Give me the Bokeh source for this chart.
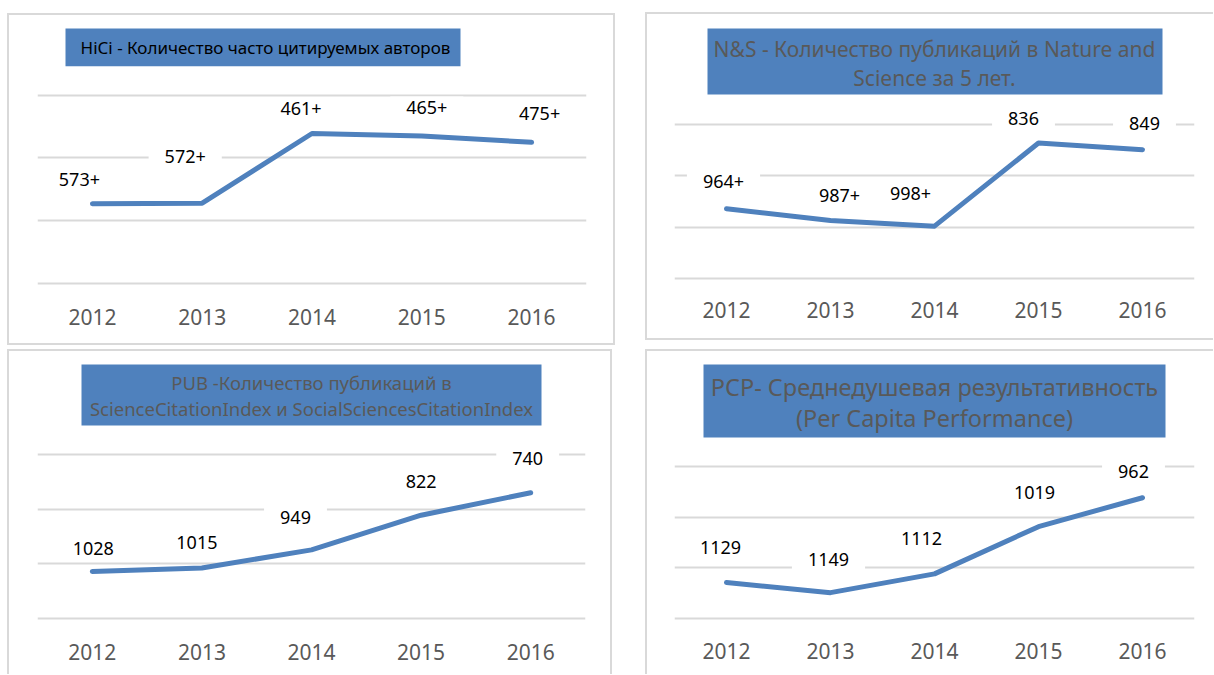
from bokeh.plotting import figure
from bokeh.models import Range1d, FixedTicker, BoxAnnotation, Label, ColumnDataSource
from bokeh.layouts import row, column
from bokeh.core.properties import value
from bokeh.embed import file_html
from bokeh.resources import INLINE

# ---------------- data ----------------
years = [2012, 2013, 2014, 2015, 2016]

hici_rank = [573, 572, 461, 465, 475]
hici_text = ["573+", "572+", "461+", "465+", "475+"]
hici_ticks = [400, 500, 600, 700]

ns_rank = [964, 987, 998, 836, 849]
ns_text = ["964+", "987+", "998+", "836", "849"]
ns_ticks = [800, 900, 1000, 1100]

pub_rank = [1028, 1015, 949, 822, 740]
pub_text = ["1028", "1015", "949", "822", "740"]
pub_ticks = [600, 800, 1000, 1200]

pcp_rank = [1129, 1149, 1112, 1019, 962]
pcp_text = ["1129", "1149", "1112", "1019", "962"]
pcp_ticks = [900, 1000, 1100, 1200]

hici_title = ["HiCi - Количество часто цитируемых авторов"]
ns_title = ["N&S - Количество публикаций в Nature and", "Science за 5 лет."]
pub_title = ["PUB -Количество публикаций в", "ScienceCitationIndex и SocialSciencesCitationIndex"]
pcp_title = ["PCP- Среднедушевая результативность", "(Per Capita Performance)"]

# label offsets (screen px), styling only
hici_dx = [-13, -17, -11, 5, 8]
hici_dy = [-24, -47, -25, -29, -29]
ns_dx = [-3, 9, -24, -15, 2]
ns_dy = [-27, -25, -33, -24, -26]
pub_dx = [1, -5, -16, 0, -3]
pub_dy = [-23, -25, -32, -34, -34]
pcp_dx = [-6, -2, -13, -4, -9]
pcp_dy = [-35, -33, -35, -34, -26]

FONT_NAME = "Noto Sans"
FONT = value(FONT_NAME)
BLUE = "#4F81BD"
GRID = "#d9d9d9"
PAD_BOTTOM = 3  # frame extends a little below the last gridline


def panel(w, h, fl, fr, ft, gtop, gbot, ticks, ranks, texts, dx, dy,
          box, lines, line_ys, text_cx, title_size, title_color, year_y, sides):
    slot = (fr - fl) / 5.0
    ppr = (gbot - gtop) / float(ticks[-1] - ticks[0])
    y_top = ticks[0] - (gtop - ft) / ppr
    y_bot = ticks[-1] + PAD_BOTTOM / ppr

    def X(px):
        return 2011.5 + (px - fl) / slot

    def Y(py):
        return y_top + (py - ft) / ppr

    shadows = []
    if "l" in sides:
        shadows.append("inset 2px 0 0 0 %s" % GRID)
    if "t" in sides:
        shadows.append("inset 0 2px 0 0 %s" % GRID)
    if "r" in sides:
        shadows.append("inset -2px 0 0 0 %s" % GRID)
    if "b" in sides:
        shadows.append("inset 0 -2px 0 0 %s" % GRID)

    p = figure(width=w, height=h,
               x_range=Range1d(2011.5, 2016.5),
               y_range=Range1d(y_bot, y_top),
               min_border_left=fl, min_border_right=w - fr,
               min_border_top=ft, min_border_bottom=h - gbot - PAD_BOTTOM,
               y_axis_location=None,
               toolbar_location=None, output_backend="svg",
               styles={"box-shadow": ", ".join(shadows)})
    p.border_fill_color = None
    p.background_fill_color = None
    p.outline_line_color = None

    p.xgrid.visible = False
    p.ygrid.ticker = FixedTicker(ticks=ticks)
    p.ygrid.grid_line_color = GRID
    p.ygrid.grid_line_width = 2

    ax = p.xaxis[0]
    ax.ticker = FixedTicker(ticks=years)
    ax.axis_line_color = None
    ax.major_tick_line_color = None
    ax.minor_tick_line_color = None
    ax.major_label_text_font = FONT_NAME
    ax.major_label_text_font_size = "21px"
    ax.major_label_text_color = "#595959"
    ax.major_label_standoff = int(year_y - gbot - PAD_BOTTOM - 13)

    # title box
    p.add_layout(BoxAnnotation(left=X(box[0]), right=X(box[2]),
                               top=Y(box[1]), bottom=Y(box[3]),
                               fill_color=BLUE, fill_alpha=1.0, line_color=None))
    for t, ly in zip(lines, line_ys):
        p.add_layout(Label(x=X(text_cx), y=Y(ly), text=t,
                           text_align="center", text_baseline="middle",
                           text_font=FONT_NAME, text_font_size=title_size,
                           text_color=title_color))

    src = ColumnDataSource(dict(x=years, y=ranks, t=texts, dx=dx, dy=dy))
    p.text(x="x", y="y", text="t", x_offset="dx", y_offset="dy", source=src,
           text_font=FONT, text_font_size="18px", text_color="black",
           text_align="center", text_baseline="middle",
           background_fill_color="white", padding=(16, 4))
    p.line(years, ranks, line_color=BLUE, line_width=5,
           line_cap="round", line_join="round")
    return p


p1 = panel(608, 332, 30, 579, 5, 82, 271, hici_ticks, hici_rank, hici_text,
           hici_dx, hici_dy, (58, 15, 453, 53), hici_title, [34], 258,
           "17px", "#000000", 303, "ltrb")
p2 = panel(568, 328, 29, 549, 5, 112, 266, ns_ticks, ns_rank, ns_text,
           ns_dx, ns_dy, (62, 16, 517, 82), ns_title, [36, 65], 289,
           "21px", "#595959", 296, "ltb")
p3 = panel(605, 325, 30, 578, 5, 105, 269, pub_ticks, pub_rank, pub_text,
           pub_dx, pub_dy, (74, 15, 534, 76), pub_title, [33, 59], 304,
           "18.5px", "#595959", 301, "ltr")
p4 = panel(568, 325, 29, 549, 5, 118, 272, pcp_ticks, pcp_rank, pcp_text,
           pcp_dx, pcp_dy, (58, 15, 520, 89), pcp_title, [38, 69], 289,
           "23.5px", "#595959", 303, "lt")

p1.margin = (13, 0, 0, 7)
p2.margin = (12, 0, 0, 30)
p3.margin = (4, 0, 0, 7)
p4.margin = (4, 0, 0, 33)

layout = column(row(p1, p2), row(p3, p4))

open("out.html", "w").write(file_html(layout, INLINE))
